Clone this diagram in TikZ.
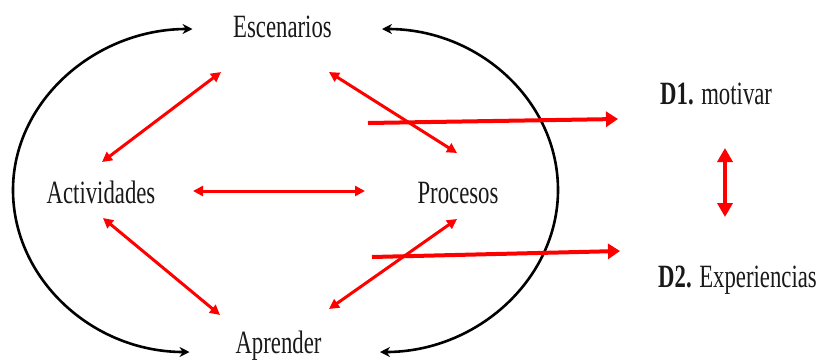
\documentclass[tikz,border=0pt]{standalone}
\usepackage{fontspec}
\setmainfont[FakeStretch=0.70]{Liberation Serif}
\usetikzlibrary{arrows.meta,calc}
\begin{document}
\begin{tikzpicture}[x=1pt,y=-1pt,
  lbl/.style={inner sep=0pt, anchor=base, font=\fontsize{32.5}{36}\selectfont, text=black!90},
  dlbl/.style={lbl, anchor=base west},
  blk/.style={line width=2.6pt, black, {Stealth[length=10pt,width=10pt]}-{Stealth[length=10pt,width=10pt]}},
  rdd/.style={line width=3pt, red, {Triangle[length=10pt,width=10pt]}-{Triangle[length=10pt,width=10pt]}},
  rlong/.style={line width=4pt, red, -{Triangle[length=12pt,width=15pt]}},
  rvert/.style={line width=4.5pt, red, {Triangle[length=14pt,width=15pt]}-{Triangle[length=14pt,width=15pt]}}]
\useasboundingbox (0,0) rectangle (820,360);
\node[lbl] (esc) at (282.5,37) {Escenarios};
\node[lbl] (act) at (101,203) {Actividades};
\node[lbl] (proc) at (458,203) {Procesos};
\node[lbl] (apr) at (278.5,353) {Aprender};
\node[dlbl] (d1) at (660,104) {\textbf{D1.} motivar};
\node[dlbl] (d2) at (658,287) {\textbf{D2.} Experiencias};
\coordinate (lm) at (13,190);
\coordinate (rm) at (558,190);
% black arcs
\draw[blk] ($(esc.base)+(-90,-8)$) .. controls +(-97,0) and +(0,-89) .. (lm)
  .. controls +(0,89) and +(-97,0) .. ($(apr.base)+(-89,-1)$);
\draw[blk] ($(esc.base)+(99.5,-8)$) .. controls +(97,0) and +(0,-89) .. (rm)
  .. controls +(0,89) and +(97,0) .. ($(apr.base)+(101.5,-1)$);
% red double arrows
\draw[rdd] ($(esc.base)+(-61.5,35)$) -- ($(act.base)+(1,-41)$);
\draw[rdd] ($(esc.base)+(46.5,35)$) -- ($(proc.base)+(-1,-50)$);
\draw[rdd] ($(act.base)+(92,-12)$) -- ($(proc.base)+(-93,-12)$);
\draw[rdd] ($(act.base)+(2,15)$) -- ($(apr.base)+(-58.5,-38)$);
\draw[rdd] ($(proc.base)+(-1,16)$) -- ($(apr.base)+(50.5,-44)$);
% long arrows to D1, D2
\draw[rlong] ($(proc.base)+(-90,-80)$) -- ($(d1.base west)+(-42,15)$);
\draw[rlong] ($(proc.base)+(-86,54)$) -- ($(d2.base west)+(-38,-36)$);
% vertical arrow
\draw[rvert] ($(d1.base west)+(65,44)$) -- ($(d2.base west)+(67,-70)$);
\end{tikzpicture}
\end{document}
